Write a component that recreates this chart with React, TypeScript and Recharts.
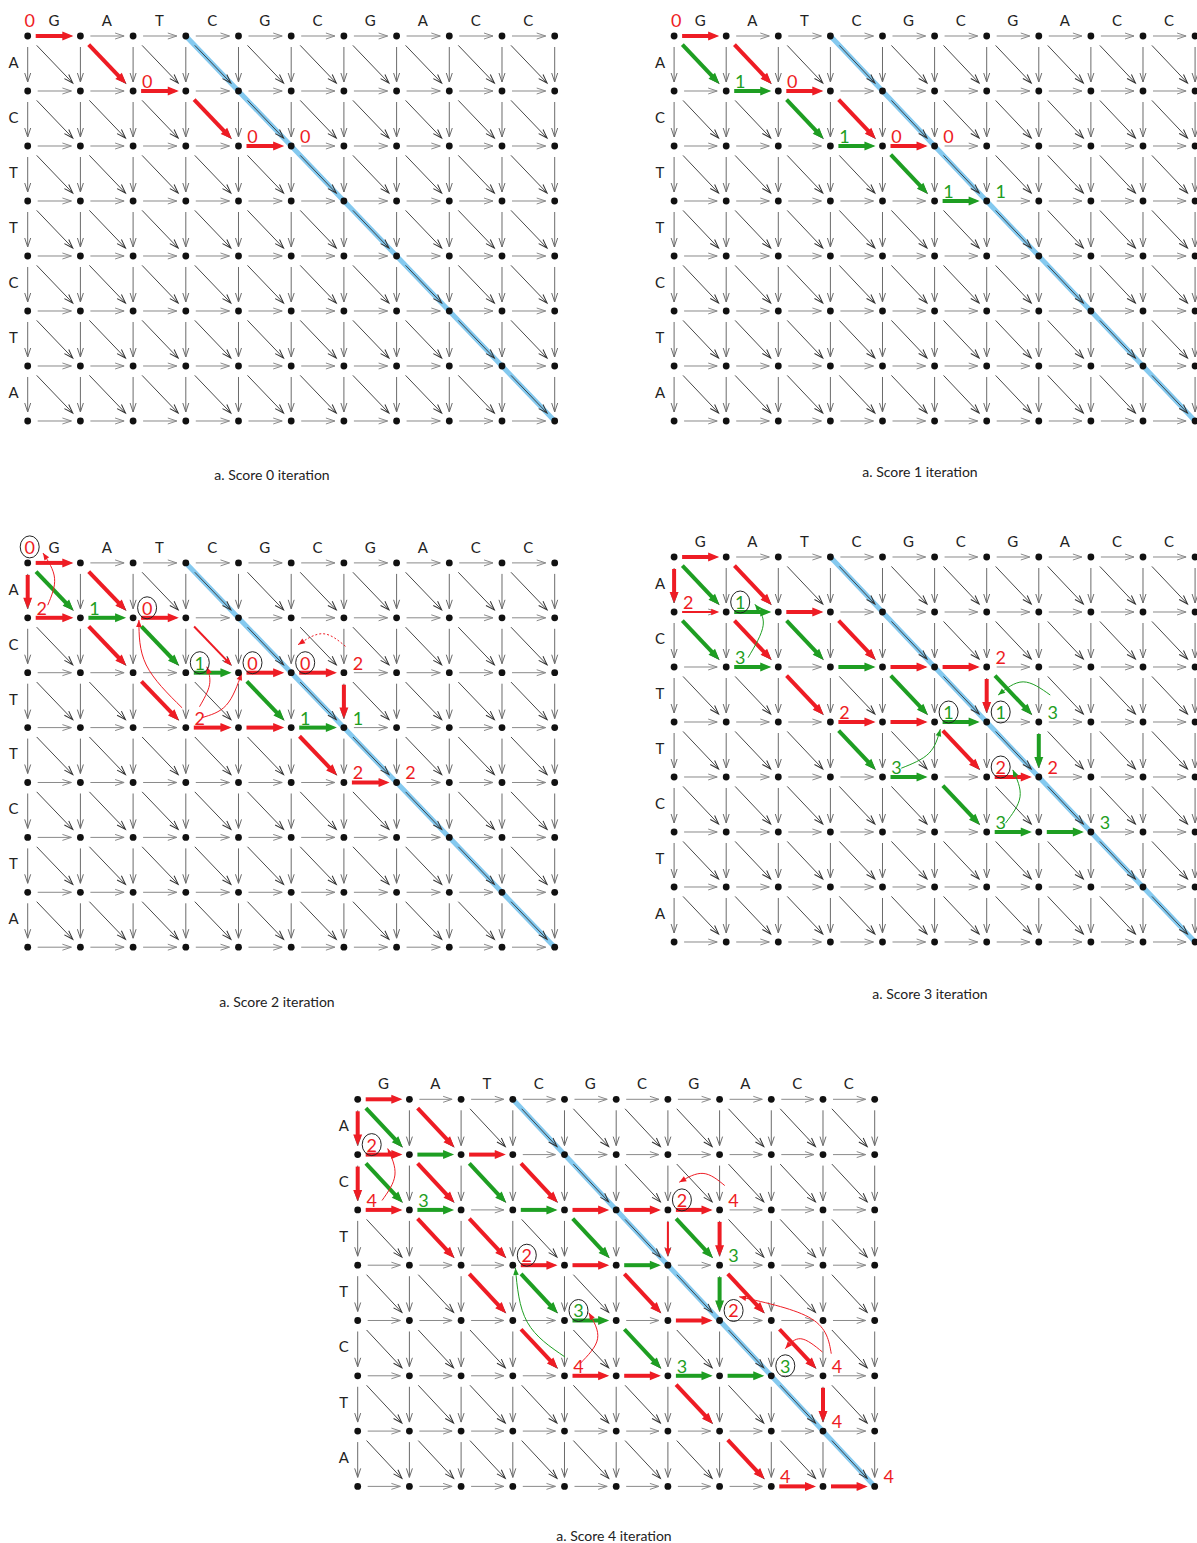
import React from "react";
import { ComposedChart, Line, Scatter, XAxis, YAxis } from "recharts";

const COLS = 10;
const ROWS = 7;

const topLetters = ["G", "A", "T", "C", "G", "C", "G", "A", "C", "C"];
const sideLetters = ["A", "C", "T", "T", "C", "T", "A"];
const captions = [
  "a. Score 0 iteration",
  "a. Score 1 iteration",
  "a. Score 2 iteration",
  "a. Score 3 iteration",
  "a. Score 4 iteration",
];

// highlighted diagonal (grid cells)
const diagonal = [
  [3, 0],
  [10, 7],
];

// [col, row, direction, colour]  r = red, g = green, n = thin red
type Arrow = [number, number, string, string];
const arrowsA: Arrow[] = [
  [0, 0, "h", "r"], [1, 0, "d", "r"], [2, 1, "h", "r"], [3, 1, "d", "r"], [4, 2, "h", "r"],
];
const arrowsB: Arrow[] = [
  [0, 0, "h", "r"], [0, 0, "d", "g"], [1, 0, "d", "r"], [1, 1, "h", "g"], [2, 1, "h", "r"],
  [2, 1, "d", "g"], [3, 1, "d", "r"], [3, 2, "h", "g"], [4, 2, "h", "r"], [4, 2, "d", "g"],
  [5, 3, "h", "g"],
];
const arrowsC: Arrow[] = [
  [0, 0, "h", "r"], [0, 0, "v", "r"], [0, 0, "d", "g"], [0, 1, "h", "r"], [1, 0, "d", "r"],
  [1, 1, "h", "g"], [2, 1, "h", "r"], [1, 1, "d", "r"], [2, 1, "d", "g"], [3, 1, "d", "n"],
  [3, 2, "h", "g"], [4, 2, "h", "r"], [5, 2, "h", "r"], [6, 2, "v", "r"], [2, 2, "d", "r"],
  [3, 3, "h", "r"], [4, 3, "h", "r"], [4, 2, "d", "g"], [5, 3, "h", "g"], [5, 3, "d", "r"],
  [6, 4, "h", "r"],
];
const arrowsD: Arrow[] = [
  [0, 0, "h", "r"], [0, 0, "v", "r"], [0, 0, "d", "g"], [0, 1, "h", "n"], [1, 0, "d", "r"],
  [1, 1, "h", "g"], [2, 1, "h", "r"], [0, 1, "d", "g"], [1, 1, "d", "r"], [1, 2, "h", "g"],
  [2, 1, "d", "g"], [3, 1, "d", "r"], [3, 2, "h", "g"], [4, 2, "h", "r"], [5, 2, "h", "r"],
  [6, 2, "v", "r"], [6, 2, "d", "g"], [2, 2, "d", "r"], [3, 3, "h", "r"], [4, 3, "h", "r"],
  [4, 2, "d", "g"], [5, 3, "h", "g"], [3, 3, "d", "g"], [4, 4, "h", "g"], [5, 3, "d", "r"],
  [6, 4, "h", "r"], [7, 3, "v", "g"], [5, 4, "d", "g"], [6, 5, "h", "g"], [7, 5, "h", "g"],
];
const arrowsE: Arrow[] = [
  [0, 0, "h", "r"], [0, 0, "v", "r"], [0, 0, "d", "g"], [1, 0, "d", "r"],
  [0, 1, "h", "r"], [1, 1, "h", "g"], [2, 1, "h", "r"], [0, 1, "v", "r"], [0, 1, "d", "g"],
  [1, 1, "d", "r"], [2, 1, "d", "g"], [3, 1, "d", "r"],
  [0, 2, "h", "r"], [1, 2, "h", "g"], [3, 2, "h", "g"], [4, 2, "h", "r"], [5, 2, "h", "r"], [6, 2, "h", "r"],
  [1, 2, "d", "r"], [2, 2, "d", "r"], [4, 2, "d", "g"], [6, 2, "v", "n"], [6, 2, "d", "g"], [7, 2, "v", "r"],
  [3, 3, "h", "r"], [4, 3, "h", "r"], [5, 3, "h", "g"],
  [2, 3, "d", "r"], [3, 3, "d", "g"], [5, 3, "d", "r"], [7, 3, "v", "g"], [7, 3, "d", "r"],
  [4, 4, "h", "g"], [6, 4, "h", "r"], [3, 4, "d", "r"], [5, 4, "d", "g"],
  [4, 5, "h", "r"], [5, 5, "h", "r"], [6, 5, "h", "g"], [7, 5, "h", "g"], [8, 4, "d", "r"],
  [6, 5, "d", "r"], [9, 5, "v", "r"], [7, 6, "d", "r"], [8, 7, "h", "r"], [9, 7, "h", "r"],
];

// [col, row, text, colour, circled, place]  u = upper right, t = above
type Mark = [number, number, string, string, number, string];
const labelsA: Mark[] = [
  [0, 0, "0", "r", 0, "t"], [2, 1, "0", "r", 0, "u"], [4, 2, "0", "r", 0, "u"], [5, 2, "0", "r", 0, "u"],
];
const labelsB: Mark[] = [
  [0, 0, "0", "r", 0, "t"], [1, 1, "1", "g", 0, "u"], [2, 1, "0", "r", 0, "u"], [3, 2, "1", "g", 0, "u"],
  [4, 2, "0", "r", 0, "u"], [5, 2, "0", "r", 0, "u"], [5, 3, "1", "g", 0, "u"], [6, 3, "1", "g", 0, "u"],
];
const labelsC: Mark[] = [
  [0, 0, "0", "r", 1, "t"], [0, 1, "2", "r", 0, "u"], [1, 1, "1", "g", 0, "u"], [2, 1, "0", "r", 1, "u"],
  [3, 2, "1", "g", 1, "u"], [4, 2, "0", "r", 1, "u"], [5, 2, "0", "r", 1, "u"], [6, 2, "2", "r", 0, "u"],
  [3, 3, "2", "r", 0, "u"], [5, 3, "1", "g", 0, "u"], [6, 3, "1", "g", 0, "u"], [6, 4, "2", "r", 0, "u"],
  [7, 4, "2", "r", 0, "u"],
];
const labelsD: Mark[] = [
  [0, 1, "2", "r", 0, "u"], [1, 1, "1", "g", 1, "u"], [1, 2, "3", "g", 0, "u"], [6, 2, "2", "r", 0, "u"],
  [3, 3, "2", "r", 0, "u"], [5, 3, "1", "g", 1, "u"], [6, 3, "1", "g", 1, "u"], [7, 3, "3", "g", 0, "u"],
  [4, 4, "3", "g", 0, "u"], [6, 4, "2", "r", 1, "u"], [7, 4, "2", "r", 0, "u"], [6, 5, "3", "g", 0, "u"],
  [8, 5, "3", "g", 0, "u"],
];
const labelsE: Mark[] = [
  [0, 1, "2", "r", 1, "u"], [0, 2, "4", "r", 0, "u"], [1, 2, "3", "g", 0, "u"], [6, 2, "2", "r", 1, "u"],
  [7, 2, "4", "r", 0, "u"], [3, 3, "2", "r", 1, "u"], [7, 3, "3", "g", 0, "u"], [4, 4, "3", "g", 1, "u"],
  [7, 4, "2", "r", 1, "u"], [4, 5, "4", "r", 0, "u"], [6, 5, "3", "g", 0, "u"], [8, 5, "3", "g", 1, "u"],
  [9, 5, "4", "r", 0, "u"], [9, 6, "4", "r", 0, "u"], [8, 7, "4", "r", 0, "u"], [10, 7, "4", "r", 0, "u"],
];

// curved pointers: colour, waypoints (col,row), dotted
type Curve = [string, number[][], number];
const curvesA: Curve[] = [];
const curvesB: Curve[] = [];
const curvesC: Curve[] = [
  ["r", [[0.38, 0.77], [0.51, 0.28], [0.29, -0.18]], 0],
  ["r", [[2.93, 2.64], [2.25, 1.86], [2.11, 1.04]], 0],
  ["r", [[3.26, 2.62], [3.45, 2.22], [3.4, 1.89]], 0],
  ["r", [[3.3, 2.82], [3.77, 2.59], [4.06, 2.01]], 0],
  ["r", [[6.03, 1.52], [5.6, 1.29], [5.13, 1.49]], 1],
];
const curvesD: Curve[] = [
  ["g", [[1.42, 1.83], [1.71, 1.24], [1.55, 0.86]], 0],
  ["g", [[7.22, 2.51], [6.7, 2.27], [6.22, 2.51]], 0],
  ["g", [[4.36, 3.84], [4.89, 3.57], [5.11, 3.13]], 0],
  ["g", [[6.36, 4.84], [6.64, 4.36], [6.5, 3.87]], 0],
];
const curvesE: Curve[] = [
  ["r", [[0.47, 1.83], [0.72, 1.37], [0.58, 0.89]], 0],
  ["r", [[7.1, 1.56], [6.68, 1.34], [6.22, 1.5]], 0],
  ["g", [[4.01, 4.66], [3.28, 4.03], [3.05, 3.05]], 0],
  ["r", [[4.3, 4.78], [4.64, 4.33], [4.47, 3.86]], 0],
  ["r", [[8.99, 4.57], [8.57, 4.33], [8.27, 4.51]], 0],
  ["r", [[9.16, 4.6], [8.78, 3.97], [7.38, 3.57]], 0],
];

const RED = "#ee1c24";
const GREEN = "#1e9e22";
const BLUE = "#84c9ef";
const FONT = "Lato, 'Open Sans', sans-serif";

const panels = [
  { gx: 28, gy: 36, sx: 52.7, sy: 55, cx: 272, cy: 474, arrows: arrowsA, labels: labelsA, curves: curvesA },
  { gx: 674, gy: 36, sx: 52.1, sy: 55, cx: 920, cy: 471, arrows: arrowsB, labels: labelsB, curves: curvesB },
  { gx: 28, gy: 563, sx: 52.7, sy: 54.9, cx: 277, cy: 1001, arrows: arrowsC, labels: labelsC, curves: curvesC },
  { gx: 674, gy: 557, sx: 52.1, sy: 55, cx: 930, cy: 993, arrows: arrowsD, labels: labelsD, curves: curvesD },
  { gx: 358, gy: 1099, sx: 51.7, sy: 55.3, cx: 614, cy: 1535, arrows: arrowsE, labels: labelsE, curves: curvesE },
];

// grid node lists
const range = (n: number) => Array.from({ length: n }, (_, i) => i);
const gridRows = range(ROWS + 1).map((j) => range(COLS + 1).map((i) => ({ x: i, y: j })));
const gridCols = range(COLS + 1).map((i) => range(ROWS + 1).map((j) => ({ x: i, y: j })));
const diagStarts = [...range(COLS).map((i) => [i, 0]), ...range(ROWS - 1).map((j) => [0, j + 1])];
const gridDiags = diagStarts.map(([i0, j0]) => {
  const pts = [];
  for (let k = 0; i0 + k <= COLS && j0 + k <= ROWS; k++) pts.push({ x: i0 + k, y: j0 + k });
  return pts;
});
const gridNodes = gridRows.flat();
const letterPts = [
  ...topLetters.map((t, i) => ({ x: i + 0.5, y: -0.29, t })),
  ...sideLetters.map((t, j) => ({ x: -0.27, y: j + 0.47, t })),
];

const DIRS: Record<string, number[]> = { h: [1, 0], v: [0, 1], d: [1, 1] };
const GAPS: Record<string, number[]> = { h: [8, 7], v: [12, 9], d: [12, 10] };
const colourOf = (k: string) => (k === "g" ? GREEN : RED);

function Head({ id, len, hw, gap, color, open }: any) {
  return (
    <marker
      id={id}
      markerUnits="userSpaceOnUse"
      markerWidth={len + 2}
      markerHeight={hw * 2 + 2}
      refX={len + gap}
      refY={hw + 1}
      orient="auto"
      overflow="visible"
    >
      <path
        d={`M0,1 L${len},${hw + 1} L0,${2 * hw + 1}${open ? "" : " Z"}`}
        fill={open ? "none" : color}
        stroke={open ? color : "none"}
        strokeWidth={1}
      />
    </marker>
  );
}

function Markers() {
  const heads: any[] = [];
  ["r", "g"].forEach((k) =>
    Object.keys(GAPS).forEach((d) =>
      heads.push(<Head key={`t${k}${d}`} id={`t${k}${d}`} len={11} hw={4.5} gap={GAPS[d][1]} color={colourOf(k)} />)
    )
  );
  Object.keys(GAPS).forEach((d) =>
    heads.push(<Head key={`n${d}`} id={`nr${d}`} len={8} hw={3.2} gap={GAPS[d][1]} color={RED} />)
  );
  return (
    <svg width={0} height={0} style={{ position: "absolute" }}>
      <defs>
        {heads}
        <Head id="gh" len={9} hw={3} gap={9} color="#8a8a8a" open />
        <Head id="gv" len={9} hw={3} gap={9} color="#6a6a6a" open />
        <Head id="gd" len={9} hw={3} gap={11} color="#333" open />
        <Head id="cr" len={7} hw={2.8} gap={0} color={RED} />
        <Head id="cg" len={7} hw={2.8} gap={0} color={GREEN} />
      </defs>
    </svg>
  );
}

const labelShape = (p: any) => {
  const d = p.payload;
  const top = d.p === "t";
  const x = p.cx + (top ? 2 : 14);
  const y = p.cy + (top ? -16 : -10);
  return (
    <g>
      <text x={x} y={y} textAnchor="middle" dominantBaseline="central" fontFamily={FONT} fontSize={18} fill={colourOf(d.k)}>
        {d.t}
      </text>
      {d.o ? <ellipse cx={x} cy={y} rx={9.5} ry={11} fill="none" stroke="#222" strokeWidth={1} /> : null}
    </g>
  );
};

const letterShape = (p: any) => (
  <text x={p.cx} y={p.cy} textAnchor="middle" dominantBaseline="central" fontFamily={FONT} fontSize={15} fill="#222">
    {p.payload.t}
  </text>
);

const nodeShape = (p: any) => <circle cx={p.cx} cy={p.cy} r={3.4} fill="#111" />;

function Panel({ g, caption }: any) {
  const { gx, gy, sx, sy } = g;
  const dl = Math.hypot(sx, sy);
  const w = sx * (COLS + 2);
  const h = sy * (ROWS + 2);
  const common = { dataKey: "y", type: "linear" as const, dot: false, activeDot: false, isAnimationActive: false, legendType: "none" as const };
  const lens: Record<string, number> = { h: sx, v: sy, d: dl };

  return (
    <>
      <div style={{ position: "absolute", left: gx - sx, top: gy - sy }}>
        <ComposedChart width={w} height={h} margin={{ top: 0, right: 0, bottom: 0, left: 0 }}>
          <XAxis type="number" dataKey="x" domain={[-1, COLS + 1]} hide />
          <YAxis type="number" dataKey="y" domain={[-1, ROWS + 1]} reversed hide />
          <Line {...common} data={diagonal.map(([x, y]) => ({ x, y }))} stroke={BLUE} strokeWidth={5} />
          {gridDiags.map((pts, i) => (
            <Line
              key={`d${i}`}
              {...common}
              data={pts}
              stroke="#333"
              strokeWidth={0.9}
              strokeDasharray={`${dl - 24} 24`}
              strokeDashoffset={-13}
              markerMid="url(#gd)"
              markerEnd="url(#gd)"
            />
          ))}
          {gridCols.map((pts, i) => (
            <Line
              key={`v${i}`}
              {...common}
              data={pts}
              stroke="#6a6a6a"
              strokeWidth={1}
              strokeDasharray={`${sy - 20} 20`}
              strokeDashoffset={-11}
              markerMid="url(#gv)"
              markerEnd="url(#gv)"
            />
          ))}
          {gridRows.map((pts, i) => (
            <Line
              key={`h${i}`}
              {...common}
              data={pts}
              stroke="#8a8a8a"
              strokeWidth={1}
              strokeDasharray={`${sx - 19} 19`}
              strokeDashoffset={-10}
              markerMid="url(#gh)"
              markerEnd="url(#gh)"
            />
          ))}
          {g.arrows.map(([c, r, d, k]: Arrow, i: number) => {
            const thin = k === "n";
            const [s, e] = GAPS[d];
            const dash = lens[d] - s - e - (thin ? 8 : 11) + 2;
            return (
              <Line
                key={`a${i}`}
                {...common}
                data={[{ x: c, y: r }, { x: c + DIRS[d][0], y: r + DIRS[d][1] }]}
                stroke={colourOf(k)}
                strokeWidth={thin ? 2 : 4}
                strokeDasharray={`${dash} 2000`}
                strokeDashoffset={-s}
                markerEnd={thin ? `url(#nr${d})` : `url(#t${k}${d})`}
              />
            );
          })}
          {g.curves.map(([k, pts, dotted]: Curve, i: number) => (
            <Line
              key={`c${i}`}
              {...common}
              type="natural"
              data={pts.map(([x, y]) => ({ x, y }))}
              stroke={colourOf(k)}
              strokeWidth={1}
              strokeDasharray={dotted ? "2 2" : undefined}
              markerEnd={`url(#c${k})`}
            />
          ))}
          <Scatter data={gridNodes} dataKey="y" shape={nodeShape} isAnimationActive={false} legendType="none" />
          <Scatter
            data={g.labels.map(([x, y, t, k, o, p]: Mark) => ({ x, y, t, k, o, p }))}
            dataKey="y"
            shape={labelShape}
            isAnimationActive={false}
            legendType="none"
          />
          <Scatter data={letterPts} dataKey="y" shape={letterShape} isAnimationActive={false} legendType="none" />
        </ComposedChart>
      </div>
      <div
        style={{
          position: "absolute",
          left: g.cx,
          top: g.cy,
          transform: "translate(-50%, -50%)",
          whiteSpace: "nowrap",
          fontFamily: FONT,
          fontSize: 14,
          color: "#222",
        }}
      >
        {caption}
      </div>
    </>
  );
}

export default function App() {
  return (
    <div
      style={{
        position: "absolute",
        left: 0,
        top: 0,
        width: 1197,
        height: 1543,
        overflow: "hidden",
        background: "#fff",
      }}
    >
      <Markers />
      {panels.map((g, i) => (
        <Panel key={i} g={g} caption={captions[i]} />
      ))}
    </div>
  );
}
